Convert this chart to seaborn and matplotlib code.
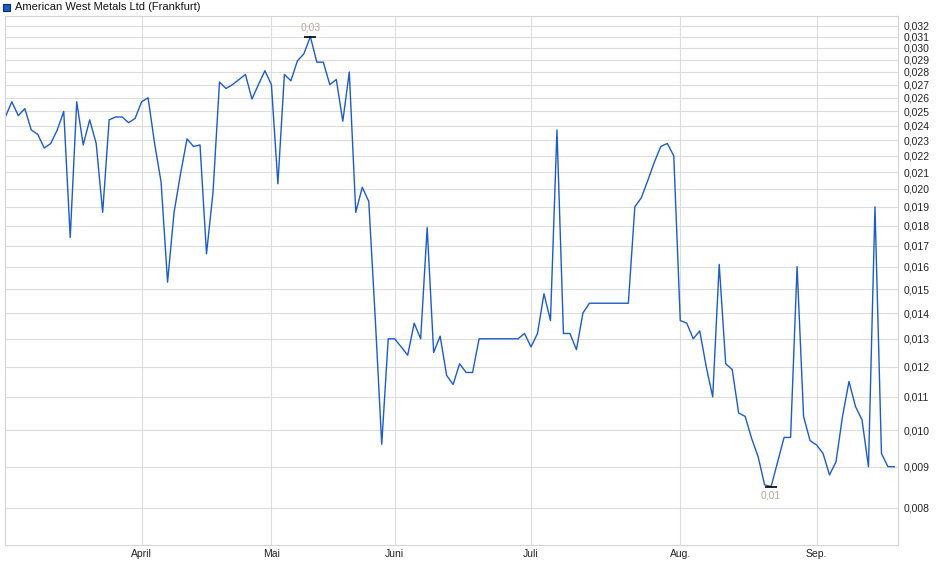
import numpy as np
import pandas as pd
import seaborn as sns
import matplotlib.pyplot as plt
from matplotlib.ticker import FixedLocator, FixedFormatter, NullLocator
from matplotlib.patches import Rectangle

# daily closing prices in EUR (one value per trading day, March to September)
prices = [
    0.0246, 0.0257, 0.0247, 0.0252, 0.0237, 0.0234, 0.0225, 0.0228, 0.0237, 0.0250,
    0.0174, 0.0257, 0.0227, 0.0244, 0.0228, 0.0187, 0.0244, 0.0246, 0.0246, 0.0242,
    0.0245, 0.0257, 0.0260, 0.0228, 0.0204, 0.0153, 0.0187, 0.0209, 0.0231, 0.0226,
    0.0227, 0.0166, 0.0198, 0.0272, 0.0267, 0.0270, 0.0274, 0.0278, 0.0259, 0.0270,
    0.0281, 0.0270, 0.0203, 0.0278, 0.0273, 0.0289, 0.0295, 0.0310, 0.0288, 0.0288,
    0.0270, 0.0274, 0.0243, 0.0280, 0.0187, 0.0201, 0.0193, 0.0138, 0.0096, 0.0130,
    0.0130, 0.0127, 0.0124, 0.0136, 0.0130, 0.0179, 0.0125, 0.0131, 0.0117, 0.0114,
    0.0121, 0.0118, 0.0118, 0.0130, 0.0130, 0.0130, 0.0130, 0.0130, 0.0130, 0.0130,
    0.0132, 0.0127, 0.0132, 0.0148, 0.0137, 0.0237, 0.0132, 0.0132, 0.0126, 0.0140,
    0.0144, 0.0144, 0.0144, 0.0144, 0.0144, 0.0144, 0.0144, 0.0190, 0.0195, 0.0205,
    0.0216, 0.0226, 0.0228, 0.0220, 0.0137, 0.0136, 0.0130, 0.0133, 0.0120, 0.0110,
    0.0161, 0.0121, 0.0119, 0.0105, 0.0104, 0.00976, 0.00926, 0.00854, 0.0085, 0.00912,
    0.00979, 0.00979, 0.0160, 0.0104, 0.0097, 0.00958, 0.00935, 0.00879, 0.00913, 0.0104,
    0.0115, 0.0107, 0.0103, 0.0090, 0.0190, 0.00935, 0.0090, 0.0090,
]

# first trading day of each month (index into prices)
month_starts = [21, 41, 60, 81, 104, 125]
month_labels = ['April', 'Mai', 'Juni', 'Juli', 'Aug.', 'Sep.']

y_ticks = [0.008, 0.009, 0.010, 0.011, 0.012, 0.013, 0.014, 0.015, 0.016, 0.017,
           0.018, 0.019, 0.020, 0.021, 0.022, 0.023, 0.024, 0.025, 0.026, 0.027,
           0.028, 0.029, 0.030, 0.031, 0.032]

df = pd.DataFrame({'day': np.arange(len(prices)), 'price': prices})

sns.set_style('white')
plt.rcParams['font.family'] = ['Liberation Sans', 'DejaVu Sans']

fig = plt.figure(figsize=(9.4, 5.79), dpi=100)
ax = fig.add_axes([5 / 940, 34 / 579, 893 / 940, 529 / 579])

sns.lineplot(data=df, x='day', y='price', ax=ax, color='#1c5cc6', linewidth=1.0)

ax.set_yscale('log')
ax.set_xlim(-0.05, 137.55)
ax.set_ylim(0.007185, 0.03289)

ax.yaxis.set_major_locator(FixedLocator(y_ticks))
ax.yaxis.set_major_formatter(FixedFormatter([f'{v:.3f}'.replace('.', ',') for v in y_ticks]))
ax.yaxis.set_minor_locator(NullLocator())
ax.yaxis.tick_right()
ax.xaxis.set_major_locator(FixedLocator(month_starts))
ax.xaxis.set_major_formatter(FixedFormatter(month_labels))
ax.tick_params(axis='both', length=0, labelsize=7.5, colors='#222222')
ax.tick_params(axis='y', pad=4)
ax.tick_params(axis='x', pad=3)
ax.set_xlabel('')
ax.set_ylabel('')

ax.grid(True, axis='both', color='#dcdcdc', linewidth=0.8)
ax.set_axisbelow(True)
for side in ['top', 'right', 'bottom', 'left']:
    ax.spines[side].set_color('#d4d4d4')
    ax.spines[side].set_linewidth(0.8)

# high / low markers
i_max = int(np.argmax(prices))
i_min = int(np.argmin(prices))
ax.plot(i_max, prices[i_max], marker='_', markersize=9, color='black', mew=1.2)
ax.plot(i_min, prices[i_min], marker='_', markersize=9, color='black', mew=1.2)
ax.annotate(f'{round(prices[i_max], 2):.2f}'.replace('.', ','), (i_max, prices[i_max]),
            xytext=(0, 3), textcoords='offset points', ha='center', va='bottom',
            fontsize=7.5, color='#b0a89c')
ax.annotate(f'{round(prices[i_min], 2):.2f}'.replace('.', ','), (i_min, prices[i_min]),
            xytext=(0, -3), textcoords='offset points', ha='center', va='top',
            fontsize=7.5, color='#b0a89c')

# legend entry at the top left
fig.patches.append(Rectangle((3 / 940, 1 - 11 / 579), 7 / 940, 7 / 579,
                             transform=fig.transFigure, facecolor='#1c5cc6',
                             edgecolor='#0d2a66', linewidth=0.8))
fig.text(15 / 940, 1 - 7.5 / 579, 'American West Metals Ltd (Frankfurt)',
         fontsize=8, va='center', ha='left', color='#111111')

fig.savefig('out.png', dpi=100)
